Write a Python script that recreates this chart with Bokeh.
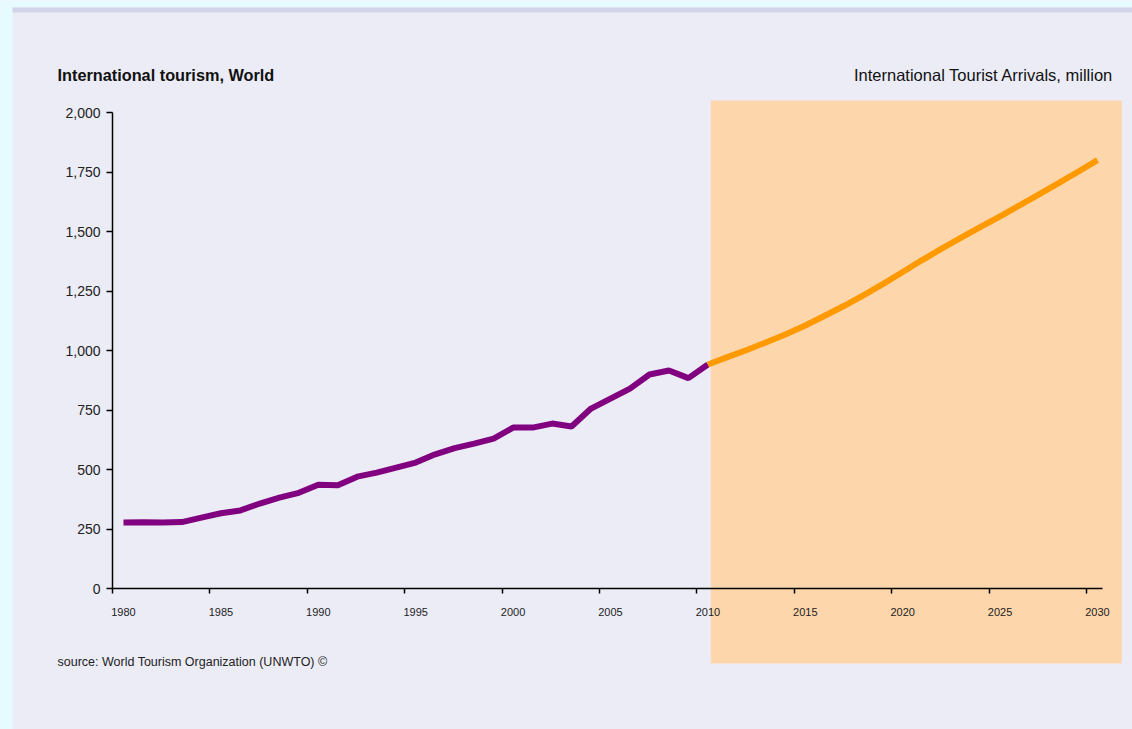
from bokeh.plotting import figure
from bokeh.models import Range1d, LinearAxis, FixedTicker, NumeralTickFormatter, Label
from bokeh.embed import file_html
from bokeh.resources import INLINE

# ---- data ----
years_hist = list(range(1980, 2011))
arrivals_hist = [277, 278, 277, 279, 298, 316, 328, 357, 382, 402, 436, 434, 470, 487, 508, 529,
                 564, 590, 609, 630, 676, 676, 693, 681, 756, 798, 840, 899, 916, 884, 941]
years_fcst = list(range(2010, 2031))
arrivals_fcst = [941, 972, 1002, 1035, 1068, 1105, 1146, 1188, 1233, 1280, 1330,
                 1380, 1428, 1474, 1519, 1564, 1610, 1656, 1703, 1751, 1800]
x_tick_years = [1980, 1985, 1990, 1995, 2000, 2005, 2010, 2015, 2020, 2025, 2030]
y_ticks = [0, 250, 500, 750, 1000, 1250, 1500, 1750, 2000]
forecast_start, forecast_end = 2010, 2030

title_left = "International tourism, World"
title_right = "International Tourist Arrivals, million"
source_text = "source: World Tourism Organization (UNWTO) \u00a9"

# ---- layout constants (pixels) ----
W, H = 1132, 729
X0_PX, PX_PER_YEAR = 123.0, 19.48     # pixel of 1980, pixels per year
Y0_PX, PX_PER_UNIT = 588.0, 476.0 / 2000.0

def px_x(px):
    return 1980 + (px - X0_PX) / PX_PER_YEAR

def px_y(py):
    return (Y0_PX - py) / PX_PER_UNIT

FONT = "Liberation Sans"
BG = "#ececf6"

p = figure(width=W, height=H, output_backend="svg", toolbar_location=None,
           x_range=Range1d(px_x(0), px_x(W)), y_range=Range1d(px_y(H), px_y(0)),
           x_axis_location=None, y_axis_location=None, min_border=0,
           background_fill_color=BG, border_fill_color=BG, outline_line_color=None)
p.xgrid.visible = False
p.ygrid.visible = False

# page edge strips
p.quad(left=[px_x(0)], right=[px_x(12)], bottom=[px_y(H)], top=[px_y(0)], fill_color="#e6fbff", line_color=None)
p.quad(left=[px_x(12)], right=[px_x(W)], bottom=[px_y(7)], top=[px_y(0)], fill_color="#e6fbff", line_color=None)
p.quad(left=[px_x(12)], right=[px_x(W)], bottom=[px_y(12)], top=[px_y(7)], fill_color="#d2d5ea", line_color=None)

# forecast shading
p.quad(left=[forecast_start + 0.15], right=[forecast_end + 1.25], bottom=[px_y(663)], top=[px_y(100)],
       fill_color="#fed6ab", line_color=None)

# lines
p.line(years_hist, arrivals_hist, line_color="#800080", line_width=6)
p.line(years_fcst, arrivals_fcst, line_color="#ff9900", line_width=6)

# y axis
y_axis_x = px_x(112)
yax = LinearAxis(fixed_location=y_axis_x, ticker=FixedTicker(ticks=y_ticks), bounds=(0, 2000),
                 formatter=NumeralTickFormatter(format="0,0"),
                 axis_line_color="black", axis_line_width=1.5,
                 major_tick_line_color="black", major_tick_line_width=1.5,
                 major_tick_in=0, major_tick_out=6, minor_tick_line_color=None,
                 major_label_standoff=6, major_label_text_font=FONT,
                 major_label_text_font_size="14px", major_label_text_color="#222222")
p.add_layout(yax, "left")

# x axis: ticks (between categories) and labels
tick_pos = [t - 0.56 for t in x_tick_years]
xax1 = LinearAxis(fixed_location=0, ticker=FixedTicker(ticks=tick_pos), bounds=(px_x(112), px_x(1102)),
                  major_label_overrides={t: "" for t in tick_pos},
                  axis_line_color="black", axis_line_width=1.5,
                  major_tick_line_color="black", major_tick_line_width=1.5,
                  major_tick_in=0, major_tick_out=5, minor_tick_line_color=None,
                  major_label_text_font_size="1px")
p.add_layout(xax1, "below")
xax2 = LinearAxis(fixed_location=0, ticker=FixedTicker(ticks=x_tick_years),
                  axis_line_color=None, major_tick_line_color=None, minor_tick_line_color=None,
                  major_label_standoff=13, major_label_text_font=FONT,
                  major_label_text_font_size="11px", major_label_text_color="#222222")
p.add_layout(xax2, "below")

# texts
p.add_layout(Label(x=px_x(57), y=px_y(74), text=title_left, text_font=FONT, text_font_size="16.3px",
                   text_font_style="bold", text_baseline="middle", text_align="left", text_color="#111111"))
p.add_layout(Label(x=px_x(1113), y=px_y(74), text=title_right, text_font=FONT, text_font_size="16.5px",
                   text_baseline="middle", text_align="right", text_color="#111111"))
p.add_layout(Label(x=px_x(57), y=px_y(661), text=source_text, text_font=FONT, text_font_size="12.5px",
                   text_baseline="middle", text_align="left", text_color="#222222"))

open("out.html", "w").write(file_html(p, INLINE))
